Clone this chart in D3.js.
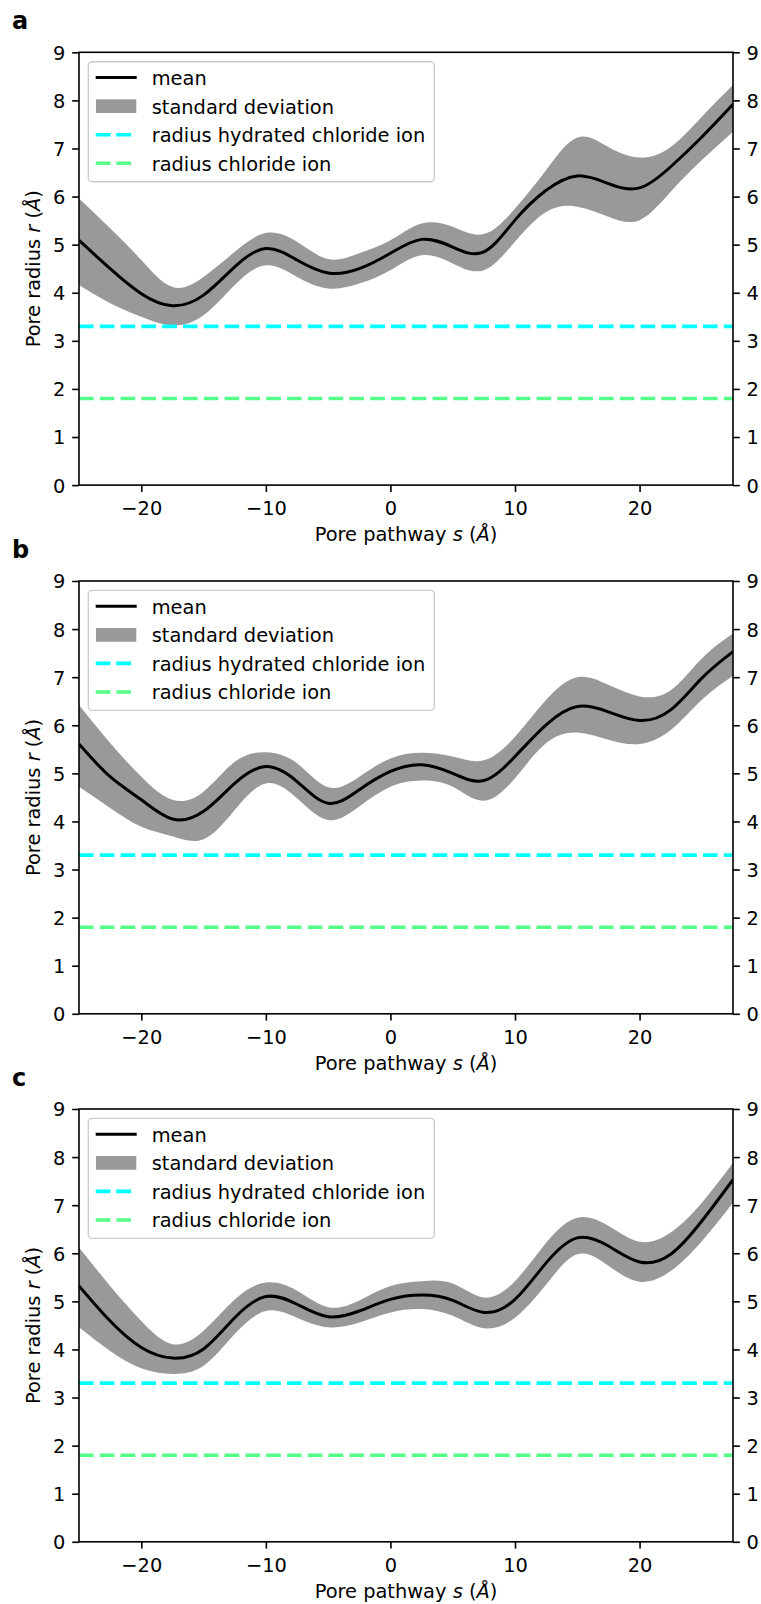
<!DOCTYPE html>
<html>
<head>
<meta charset="utf-8">
<script src="https://cdn.jsdelivr.net/npm/d3@7"></script>
<style>
  body { margin: 0; background: #fff; }
  svg { display: block; }
</style>
</head>
<body>
<svg id="chart"></svg>
<script>
// pore pathway positions (Å)
const sPos = [-25, -22.5, -20, -17.5, -15, -12.5, -10, -7.5, -5, -2.5, 0, 2.5, 5, 7.5, 10, 12.5, 15, 17.5, 20, 22.5, 25, 27.5];

// panel a
const meanA = [5.09, 4.50, 3.98, 3.73, 3.95, 4.54, 4.92, 4.68, 4.41, 4.50, 4.82, 5.11, 4.95, 4.85, 5.51, 6.13, 6.43, 6.27, 6.18, 6.62, 7.24, 7.92];
const hiA   = [5.96, 5.34, 4.68, 4.12, 4.33, 4.85, 5.24, 5.06, 4.70, 4.82, 5.09, 5.44, 5.37, 5.22, 5.75, 6.55, 7.23, 7.03, 6.81, 7.03, 7.66, 8.32];
const loA   = [4.16, 3.78, 3.50, 3.32, 3.53, 4.16, 4.57, 4.33, 4.09, 4.19, 4.47, 4.78, 4.61, 4.47, 5.06, 5.68, 5.79, 5.58, 5.51, 6.10, 6.76, 7.35];

// panel b
const meanB = [5.61, 4.93, 4.45, 4.05, 4.21, 4.79, 5.14, 4.83, 4.38, 4.66, 5.04, 5.18, 5.00, 4.85, 5.35, 6.01, 6.39, 6.28, 6.10, 6.32, 6.98, 7.53];
const hiB   = [6.42, 5.63, 4.93, 4.45, 4.62, 5.24, 5.44, 5.21, 4.71, 4.93, 5.31, 5.43, 5.35, 5.27, 5.76, 6.53, 7.00, 6.84, 6.60, 6.73, 7.39, 7.91];
const loB   = [4.72, 4.28, 3.89, 3.69, 3.63, 4.24, 4.79, 4.48, 4.03, 4.31, 4.72, 4.85, 4.72, 4.43, 4.90, 5.63, 5.85, 5.70, 5.61, 5.90, 6.53, 7.03];

// panel c
const meanC = [5.32, 4.59, 4.04, 3.82, 4.01, 4.66, 5.10, 4.94, 4.68, 4.80, 5.04, 5.13, 5.02, 4.77, 5.04, 5.80, 6.32, 6.15, 5.82, 5.98, 6.67, 7.53];
const hiC   = [6.12, 5.32, 4.59, 4.11, 4.39, 5.04, 5.39, 5.22, 4.88, 5.02, 5.32, 5.42, 5.37, 5.08, 5.42, 6.22, 6.74, 6.57, 6.24, 6.43, 7.05, 7.88];
const loC   = [4.46, 3.97, 3.61, 3.49, 3.66, 4.32, 4.80, 4.66, 4.46, 4.56, 4.77, 4.84, 4.70, 4.44, 4.66, 5.35, 5.98, 5.74, 5.41, 5.63, 6.25, 7.05];

const hydratedRadius = 3.3;
const chlorideRadius = 1.8;

const panelLabels = ["a", "b", "c"];
const xTicks = [-20, -10, 0, 10, 20];
const yTicks = [0, 1, 2, 3, 4, 5, 6, 7, 8, 9];
const legendLabels = ["mean", "standard deviation", "radius hydrated chloride ion", "radius chloride ion"];

const panels = [
  {label: panelLabels[0], mean: meanA, hi: hiA, lo: loA},
  {label: panelLabels[1], mean: meanB, hi: hiB, lo: loB},
  {label: panelLabels[2], mean: meanC, hi: hiC, lo: loC}
];

const W = 761, H = 1604;
const left = 79, right = 733;
const tops = [52.3, 581, 1109];
const ph = 432.8;
const font = "DejaVu Sans, sans-serif";
const fs = 19.4;
const cyan = "#00ffff", green = "#55ff88";

const svg = d3.select("#chart").attr("width", W).attr("height", H);

const x = d3.scaleLinear().domain([-25, 27.5]).range([left, right]);

panels.forEach((p, i) => {
  const top = tops[i];
  const y = d3.scaleLinear().domain([0, 9]).range([top + ph, top]);
  const g = svg.append("g");
  const rows = sPos.map((s, k) => ({s: s, m: p.mean[k], hi: p.hi[k], lo: p.lo[k]}));

  g.append("clipPath").attr("id", "clip" + i)
    .append("rect").attr("x", left).attr("y", top).attr("width", right - left).attr("height", ph);
  const plot = g.append("g").attr("clip-path", "url(#clip" + i + ")");

  const band = d3.area()
    .x(d => x(d.s))
    .y0(d => y(d.lo))
    .y1(d => y(d.hi))
    .curve(d3.curveNatural);
  plot.append("path").attr("d", band(rows)).attr("fill", "#999999");

  const line = d3.line()
    .x(d => x(d.s))
    .y(d => y(d.m))
    .curve(d3.curveNatural);
  plot.append("path").attr("d", line(rows))
    .attr("fill", "none").attr("stroke", "#000").attr("stroke-width", 3);

  [[hydratedRadius, cyan], [chlorideRadius, green]].forEach(([r, c]) => {
    plot.append("line")
      .attr("x1", x(-25)).attr("x2", x(27.5))
      .attr("y1", y(r)).attr("y2", y(r))
      .attr("stroke", c).attr("stroke-width", 3.6)
      .attr("stroke-dasharray", "14.6 6.2");
  });

  // axes
  const fmt = d3.format("d");
  const xAxis = g.append("g").attr("transform", `translate(0,${top + ph})`)
    .call(d3.axisBottom(x).tickValues(xTicks).tickSize(6.8).tickPadding(9.5)
      .tickFormat(d => fmt(d)));
  const yLeft = g.append("g").attr("transform", `translate(${left},0)`)
    .call(d3.axisLeft(y).tickValues(yTicks).tickSize(6.8).tickPadding(6.8).tickFormat(fmt));
  const yRight = g.append("g").attr("transform", `translate(${right},0)`)
    .call(d3.axisRight(y).tickValues(yTicks).tickSize(6.8).tickPadding(6.8).tickFormat(fmt));

  [xAxis, yLeft, yRight].forEach(a => {
    a.attr("font-family", font).attr("font-size", fs);
    a.select(".domain").remove();
    a.selectAll(".tick line").attr("stroke", "#000").attr("stroke-width", 1.6);
    a.selectAll(".tick text").attr("fill", "#000");
  });
  yLeft.selectAll(".tick text").attr("dy", "0.36em");
  yRight.selectAll(".tick text").attr("dy", "0.36em");

  g.append("rect")
    .attr("x", left).attr("y", top).attr("width", right - left).attr("height", ph)
    .attr("fill", "none").attr("stroke", "#000").attr("stroke-width", 1.6);

  // axis titles
  const xt = g.append("text")
    .attr("x", (left + right) / 2).attr("y", top + ph + 56)
    .attr("text-anchor", "middle").attr("font-family", font).attr("font-size", fs);
  xt.append("tspan").text("Pore pathway ");
  xt.append("tspan").attr("font-style", "italic").text("s");
  xt.append("tspan").text(" (");
  xt.append("tspan").attr("font-style", "italic").text("Å");
  xt.append("tspan").text(")");

  const yt = g.append("text")
    .attr("transform", `translate(40,${top + ph / 2}) rotate(-90)`)
    .attr("text-anchor", "middle").attr("font-family", font).attr("font-size", fs);
  yt.append("tspan").text("Pore radius ");
  yt.append("tspan").attr("font-style", "italic").text("r");
  yt.append("tspan").text(" (");
  yt.append("tspan").attr("font-style", "italic").text("Å");
  yt.append("tspan").text(")");

  // panel letter
  g.append("text")
    .attr("x", 12).attr("y", top - 23)
    .attr("font-family", font).attr("font-size", 24).attr("font-weight", "bold")
    .text(p.label);

  // legend
  const lg = g.append("g").attr("transform", `translate(88.3,${top + 9.4})`);
  lg.append("rect")
    .attr("width", 346).attr("height", 120).attr("rx", 4)
    .attr("fill", "#fff").attr("fill-opacity", 0.8)
    .attr("stroke", "#cccccc").attr("stroke-width", 1.4);
  legendLabels.forEach((lab, k) => {
    const base = 23.3 + k * 28.55;
    const cy = base - 7.4;
    if (k === 0) {
      lg.append("line").attr("x1", 7.4).attr("x2", 48.4).attr("y1", cy).attr("y2", cy)
        .attr("stroke", "#000").attr("stroke-width", 3);
    } else if (k === 1) {
      lg.append("rect").attr("x", 7.7).attr("y", cy - 6.8).attr("width", 40.3).attr("height", 13.7)
        .attr("fill", "#999999");
    } else {
      lg.append("line").attr("x1", 7.4).attr("x2", 48.4).attr("y1", cy).attr("y2", cy)
        .attr("stroke", k === 2 ? cyan : green).attr("stroke-width", 3.6)
        .attr("stroke-dasharray", "14.8 5.8");
    }
    lg.append("text").attr("x", 63.4).attr("y", base)
      .attr("font-family", font).attr("font-size", fs).text(lab);
  });
});
</script>
</body>
</html>
